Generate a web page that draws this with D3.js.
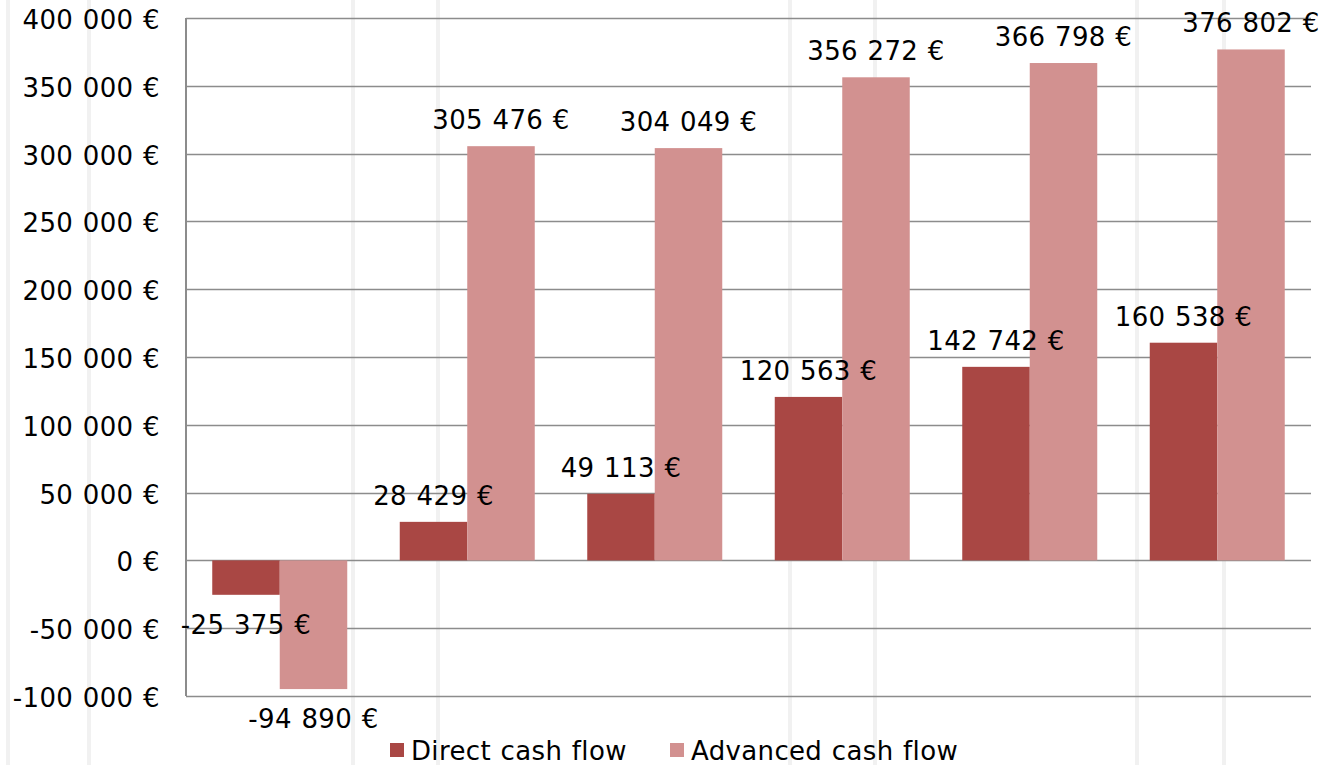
<!DOCTYPE html>
<html>
<head>
<meta charset="utf-8">
<script src="https://cdn.jsdelivr.net/npm/d3@7"></script>
<style>
  body { margin: 0; background: #fff; }
  svg { display: block; font-family: "DejaVu Sans", Verdana, sans-serif; }
  svg text { letter-spacing: 0.35px; word-spacing: 1px; }
</style>
</head>
<body>
<svg id="chart" width="1334" height="765"></svg>
<script>
// chart data
const categories = ["Year 1", "Year 2", "Year 3", "Year 4", "Year 5", "Year 6"];
const seriesNames = ["Direct cash flow", "Advanced cash flow"];
const directCashFlow = [-25375, 28429, 49113, 120563, 142742, 160538];
const advancedCashFlow = [-94890, 305476, 304049, 356272, 366798, 376802];
const yTicks = [-100000, -50000, 0, 50000, 100000, 150000, 200000, 250000, 300000, 350000, 400000];

const colors = ["#a94744", "#d29190"];
// faint background stripes of the source image
const stripes = [8, 89, 353, 438, 790, 875, 1137, 1224];

const svg = d3.select("#chart");
const width = 1334, height = 765;
const margin = { left: 186, right: 23 };

// thousands separated by spaces, euro suffix
const fmt = (v) => d3.format(",")(v).replace(/,/g, " ").replace("−", "-") + " €";

svg.selectAll("rect.stripe")
    .data(stripes)
    .enter().append("rect")
    .attr("class", "stripe")
    .attr("x", d => d - 2)
    .attr("y", 0)
    .attr("width", 4)
    .attr("height", height)
    .attr("fill", "#f1f1f1");

const x0 = d3.scaleBand()
    .domain(categories)
    .range([margin.left, width - margin.right])
    .paddingInner(0.28)
    .paddingOuter(0.14);

const x1 = d3.scaleBand()
    .domain(d3.range(seriesNames.length))
    .range([0, x0.bandwidth()]);

const y = d3.scaleLinear()
    .domain([-100000, 400000])
    .range([696, 18]);

// grid
svg.append("g")
    .selectAll("line")
    .data(yTicks)
    .enter().append("line")
    .attr("x1", margin.left)
    .attr("x2", width - margin.right)
    .attr("y1", d => Math.round(y(d)) + 0.5)
    .attr("y2", d => Math.round(y(d)) + 0.5)
    .attr("stroke", "#8c8c8c")
    .attr("stroke-width", 1.5);

// y axis line
svg.append("line")
    .attr("x1", margin.left)
    .attr("x2", margin.left)
    .attr("y1", y(400000))
    .attr("y2", y(-100000))
    .attr("stroke", "#8c8c8c")
    .attr("stroke-width", 2);

// y labels
svg.append("g")
    .selectAll("text")
    .data(yTicks)
    .enter().append("text")
    .attr("x", 160)
    .attr("y", d => y(d) + 2)
    .attr("text-anchor", "end")
    .attr("dominant-baseline", "central")
    .attr("font-size", 26)
    .attr("fill", "#000")
    .text(fmt);

const rows = categories.map((c, i) => ({
    cat: c,
    values: [directCashFlow[i], advancedCashFlow[i]]
}));

const groups = svg.append("g")
    .selectAll("g")
    .data(rows)
    .enter().append("g")
    .attr("transform", d => `translate(${x0(d.cat)},0)`);

groups.selectAll("rect")
    .data(d => d.values.map((v, s) => ({ v, s })))
    .enter().append("rect")
    .attr("x", d => x1(d.s))
    .attr("width", x1.bandwidth())
    .attr("y", d => y(Math.max(0, d.v)))
    .attr("height", d => Math.abs(y(d.v) - y(0)))
    .attr("fill", d => colors[d.s]);

// value labels on top of everything
const labels = svg.append("g");
rows.forEach(r => {
    r.values.forEach((v, s) => {
        labels.append("text")
            .attr("x", x0(r.cat) + x1(s) + x1.bandwidth() / 2)
            .attr("y", v >= 0 ? y(v) - 26 : y(v) + 30)
            .attr("text-anchor", "middle")
            .attr("dominant-baseline", "central")
            .attr("font-size", 26)
            .attr("fill", "#000")
            .text(fmt(v));
    });
});

// legend
const legendX = [390, 670];
const legend = svg.append("g")
    .selectAll("g")
    .data(seriesNames)
    .enter().append("g")
    .attr("transform", (d, i) => `translate(${legendX[i]},743)`);

legend.append("rect")
    .attr("width", 14)
    .attr("height", 14)
    .attr("fill", (d, i) => colors[i]);

legend.append("text")
    .attr("x", 21)
    .attr("y", 8)
    .attr("dominant-baseline", "central")
    .attr("font-size", 26)
    .attr("fill", "#000")
    .text(d => d);
</script>
</body>
</html>
